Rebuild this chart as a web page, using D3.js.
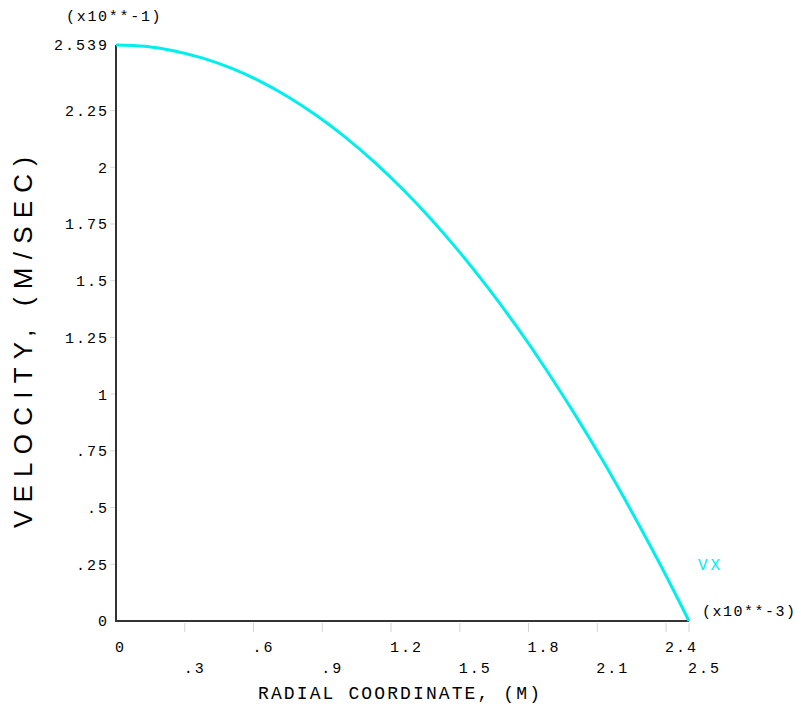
<!DOCTYPE html>
<html><head><meta charset="utf-8">
<script src="https://cdn.jsdelivr.net/npm/d3@7"></script>
<style>
body{margin:0;background:#fff;}
svg{display:block;}
text{font-family:"Liberation Mono","DejaVu Sans Mono",monospace;fill:#000;}
</style></head>
<body><div id="chart"></div>
<script>
const radius = [0,0.125,0.25,0.375,0.5,0.625,0.75,0.875,1.0,1.125,1.25,1.375,1.5,1.625,1.75,1.875,2.0,2.125,2.25,2.375,2.5];
const velocity = [2.539,2.533,2.514,2.482,2.438,2.381,2.311,2.228,2.133,2.025,1.904,1.771,1.625,1.466,1.295,1.111,0.914,0.705,0.482,0.248,0];
const xTicks = [0,0.3,0.6,0.9,1.2,1.5,1.8,2.1,2.4,2.5];
const xTickLabels = ["0",".3",".6",".9","1.2","1.5","1.8","2.1","2.4","2.5"];
const yTicks = [0,0.25,0.5,0.75,1,1.25,1.5,1.75,2,2.25,2.539];
const yTickLabels = ["0",".25",".5",".75","1","1.25","1.5","1.75","2","2.25","2.539"];
const seriesName = "VX";
const xTitle = "RADIAL COORDINATE, (M)";
const yTitle = "VELOCITY, (M/SEC)";
const xMult = "(x10**-3)";
const yMult = "(x10**-1)";

const W = 801, H = 708;
const svg = d3.select("#chart").append("svg").attr("width", W).attr("height", H);
const x = d3.scaleLinear().domain([0, 2.5]).range([116, 689]);
const y = d3.scaleLinear().domain([0, 2.539]).range([621, 45]);

// faint ticks
svg.append("g").selectAll("line").data(xTicks.slice(1)).join("line")
  .attr("x1", d => x(d)).attr("x2", d => x(d)).attr("y1", y(0) + 2).attr("y2", y(0) + 11)
  .attr("stroke", "#d4d4d4").attr("stroke-width", 1);
svg.append("g").selectAll("line").data(yTicks.slice(1, -1)).join("line")
  .attr("x1", x(0) - 6).attr("x2", x(0) - 1).attr("y1", d => y(d)).attr("y2", d => y(d))
  .attr("stroke", "#dadada").attr("stroke-width", 1);

// axes lines
svg.append("line").attr("x1", x(0)).attr("x2", x(0)).attr("y1", y(2.539)).attr("y2", y(0) + 1)
  .attr("stroke", "#333").attr("stroke-width", 2);
svg.append("line").attr("x1", x(0)).attr("x2", x(2.5)).attr("y1", y(0)).attr("y2", y(0))
  .attr("stroke", "#333").attr("stroke-width", 2);

// x tick labels (staggered, left aligned at tick)
svg.append("g").selectAll("text").data(xTicks).join("text")
  .attr("x", d => x(d) - 1)
  .attr("y", (d, i) => (i % 2 === 0 ? 652 : 673))
  .attr("font-size", 15).attr("letter-spacing", 2)
  .text((d, i) => xTickLabels[i]);

// y tick labels (right aligned)
svg.append("g").selectAll("text").data(yTicks).join("text")
  .attr("x", 109).attr("y", d => y(d)).attr("dy", "0.36em")
  .attr("text-anchor", "end")
  .attr("font-size", 15).attr("letter-spacing", 2)
  .text((d, i) => yTickLabels[i]);

// multipliers
svg.append("text").attr("x", 66).attr("y", 21).attr("font-size", 15).attr("letter-spacing", 1.7).text(yMult);
svg.append("text").attr("x", 702).attr("y", 616).attr("font-size", 15).attr("letter-spacing", 1.5).text(xMult);

// titles
svg.append("text").attr("x", 258).attr("y", 699).attr("font-size", 18)
  .attr("textLength", 282).attr("lengthAdjust", "spacing").text(xTitle);
svg.append("text")
  .attr("transform", "translate(32,528) rotate(-90)")
  .style("font-family", "'Liberation Sans',Arial,sans-serif")
  .attr("font-size", 26)
  .attr("textLength", 371).attr("lengthAdjust", "spacing").text(yTitle);

// curve
const line = d3.line().x((d, i) => x(radius[i])).y(d => y(d)).curve(d3.curveMonotoneX);
svg.append("path").datum(velocity).attr("d", line)
  .attr("fill", "none").attr("stroke", "#00eeee").attr("stroke-width", 3);

// series label
svg.append("text").attr("x", 698).attr("y", 570).attr("font-size", 16).attr("letter-spacing", 3)
  .style("fill", "#00eeee").text(seriesName);
</script></body></html>
